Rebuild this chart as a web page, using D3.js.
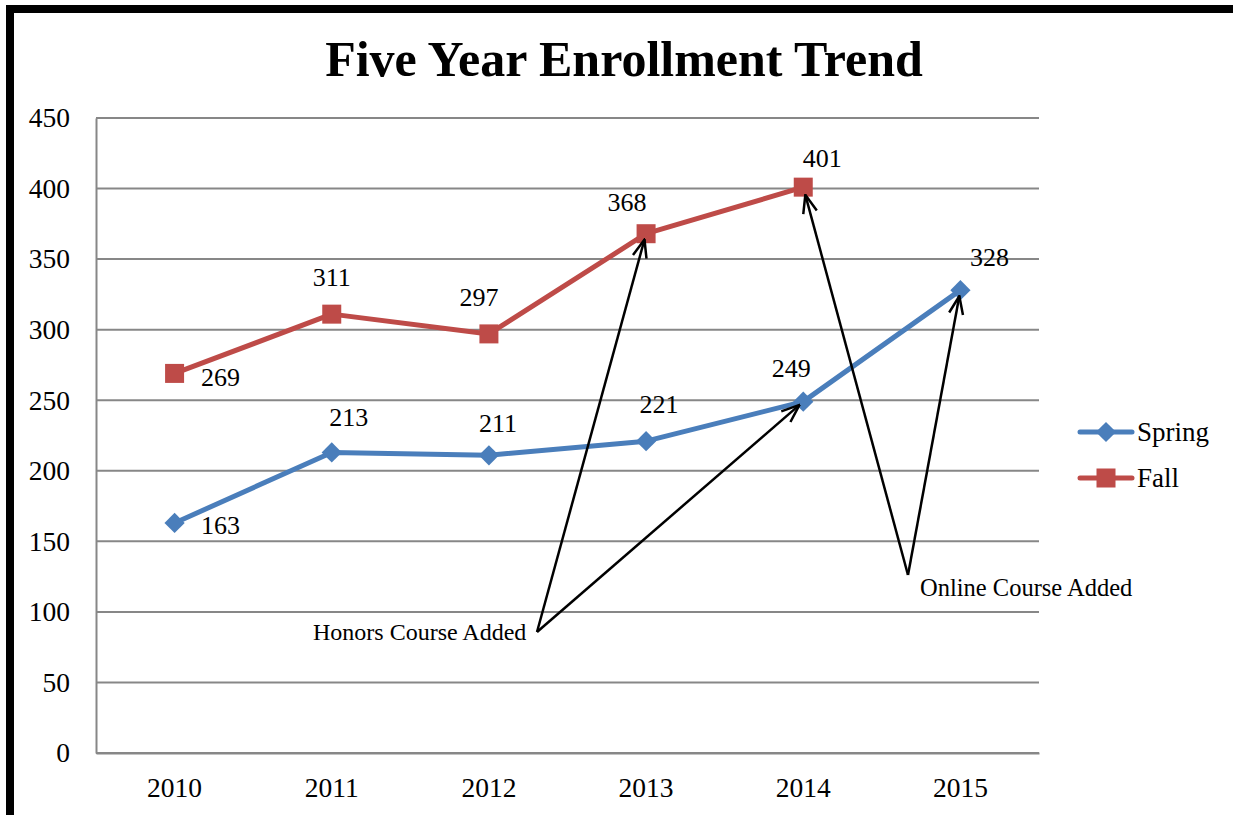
<!DOCTYPE html>
<html>
<head>
<meta charset="utf-8">
<script src="https://cdn.jsdelivr.net/npm/d3@7"></script>
<style>
  html, body { margin: 0; padding: 0; background: #fff; }
  svg { display: block; }
</style>
</head>
<body>
<svg id="chart" width="1233" height="815"></svg>
<script>
// ---- data ----
const years = ["2010", "2011", "2012", "2013", "2014", "2015"];
const springValues = [163, 213, 211, 221, 249, 328];
const fallValues = [269, 311, 297, 368, 401, null];
const yTicks = [0, 50, 100, 150, 200, 250, 300, 350, 400, 450];
const seriesNames = ["Spring", "Fall"];
const titleText = "Five Year Enrollment Trend";
const annotationTexts = ["Honors Course Added", "Online Course Added"];

// ---- layout (label offsets in px, relative to points) ----
const springLabelOffsets = [[46, 11], [17, -26], [9, -23], [13, -28], [-12, -25], [29, -24]];
const fallLabelOffsets = [[46, 13], [0, -28], [-10, -28], [-19, -23], [19, -20], null];

const svg = d3.select("#chart");
const W = 1233, H = 815;
const plot = { left: 96, right: 1039, top: 118, bottom: 753 };

const x = d3.scaleBand().domain(years).range([plot.left, plot.right]).padding(0);
const y = d3.scaleLinear().domain([0, 450]).range([plot.bottom, plot.top]);
const cx = d => x(d) + x.bandwidth() / 2;

const blue = "#4A7EBB", red = "#BE4B48", grid = "#878787";
const serif = "'Liberation Serif', 'Times New Roman', serif";

svg.append("rect").attr("width", W).attr("height", H).attr("fill", "#fff");

// frame border
svg.append("rect").attr("x", 6).attr("y", 5).attr("width", 8).attr("height", H).attr("fill", "#000");
svg.append("rect").attr("x", 6).attr("y", 5).attr("width", W).attr("height", 8).attr("fill", "#000");

// title
svg.append("text").attr("x", 624).attr("y", 76).attr("text-anchor", "middle")
  .attr("font-family", serif).attr("font-weight", "bold").attr("font-size", 50)
  .attr("fill", "#000").text(titleText);

// gridlines
svg.append("g").selectAll("line").data(yTicks).join("line")
  .attr("x1", plot.left).attr("x2", plot.right)
  .attr("y1", d => y(d)).attr("y2", d => y(d))
  .attr("stroke", grid).attr("stroke-width", 2);

// y axis
const yAxis = svg.append("g").attr("transform", `translate(${plot.left},0)`)
  .call(d3.axisLeft(y).tickValues(yTicks).tickSize(0).tickPadding(26));
yAxis.select(".domain").attr("stroke", grid).attr("stroke-width", 2);
yAxis.selectAll("text").attr("font-family", serif).attr("font-size", 27.5).attr("fill", "#000");

// x axis
const xAxis = svg.append("g").attr("transform", `translate(0,${plot.bottom})`)
  .call(d3.axisBottom(x).tickSize(0).tickPadding(24));
xAxis.select(".domain").attr("stroke", grid).attr("stroke-width", 2);
xAxis.selectAll("text").attr("font-family", serif).attr("font-size", 27.5).attr("fill", "#000");

// lines
const line = d3.line().defined(d => d.v != null).x(d => cx(d.year)).y(d => y(d.v));
const springData = years.map((yr, i) => ({ year: yr, v: springValues[i] }));
const fallData = years.map((yr, i) => ({ year: yr, v: fallValues[i] }));

svg.append("path").datum(fallData).attr("d", line).attr("fill", "none")
  .attr("stroke", red).attr("stroke-width", 5).attr("stroke-linejoin", "round");
svg.append("path").datum(springData).attr("d", line).attr("fill", "none")
  .attr("stroke", blue).attr("stroke-width", 5).attr("stroke-linejoin", "round");

const diamond = d3.symbol().type(d3.symbolSquare).size(205);
svg.append("g").selectAll("path").data(springData.filter(d => d.v != null)).join("path")
  .attr("d", diamond)
  .attr("transform", d => `translate(${cx(d.year)},${y(d.v)}) rotate(45)`)
  .attr("fill", blue);
svg.append("g").selectAll("rect").data(fallData.filter(d => d.v != null)).join("rect")
  .attr("x", d => cx(d.year) - 9.5).attr("y", d => y(d.v) - 9.5)
  .attr("width", 19).attr("height", 19).attr("fill", red);

// data labels
function labels(data, offsets) {
  svg.append("g").selectAll("text").data(data.filter(d => d.v != null)).join("text")
    .attr("x", d => cx(d.year) + offsets[years.indexOf(d.year)][0])
    .attr("y", d => y(d.v) + offsets[years.indexOf(d.year)][1])
    .attr("text-anchor", "middle")
    .attr("font-family", serif).attr("font-size", 26).attr("fill", "#000")
    .text(d => d.v);
}
labels(springData, springLabelOffsets);
labels(fallData, fallLabelOffsets);

// annotations with arrows
svg.append("defs").append("marker").attr("id", "arrow")
  .attr("viewBox", "0 0 20 20").attr("refX", 19).attr("refY", 10)
  .attr("markerWidth", 20).attr("markerHeight", 20).attr("markerUnits", "userSpaceOnUse")
  .attr("orient", "auto")
  .append("path").attr("d", "M1,3 L19,10 L1,17").attr("fill", "none")
  .attr("stroke", "#000").attr("stroke-width", 2.5);

const arrows = [
  { from: [537, 632], to: ["2013", fallValues[3], 6] },
  { from: [537, 632], to: ["2014", springValues[4], 5] },
  { from: [908, 575], to: ["2014", fallValues[4], 8] },
  { from: [908, 575], to: ["2015", springValues[5], 6] }
];
arrows.forEach(a => {
  const tx = cx(a.to[0]), ty = y(a.to[1]);
  const dx = tx - a.from[0], dy = ty - a.from[1];
  const len = Math.hypot(dx, dy);
  const k = (len - a.to[2]) / len;
  svg.append("line").attr("x1", a.from[0]).attr("y1", a.from[1])
    .attr("x2", a.from[0] + dx * k).attr("y2", a.from[1] + dy * k)
    .attr("stroke", "#000").attr("stroke-width", 2.5).attr("marker-end", "url(#arrow)");
});

svg.append("text").attr("x", 313).attr("y", 640).attr("font-family", serif)
  .attr("font-size", 24).attr("fill", "#000").text(annotationTexts[0]);
svg.append("text").attr("x", 920).attr("y", 596).attr("font-family", serif)
  .attr("font-size", 24.5).attr("fill", "#000").text(annotationTexts[1]);

// legend
const legend = svg.append("g");
seriesNames.forEach((name, i) => {
  const ly = 432 + i * 46;
  const col = i === 0 ? blue : red;
  legend.append("line").attr("x1", 1080).attr("x2", 1132).attr("y1", ly).attr("y2", ly)
    .attr("stroke", col).attr("stroke-width", 5).attr("stroke-linecap", "round");
  if (i === 0) {
    legend.append("path").attr("d", diamond).attr("transform", `translate(1106,${ly}) rotate(45)`).attr("fill", col);
  } else {
    legend.append("rect").attr("x", 1096.5).attr("y", ly - 9.5).attr("width", 19).attr("height", 19).attr("fill", col);
  }
  legend.append("text").attr("x", 1137).attr("y", ly + 9).attr("font-family", serif)
    .attr("font-size", 27).attr("fill", "#000").text(name);
});
</script>
</body>
</html>
